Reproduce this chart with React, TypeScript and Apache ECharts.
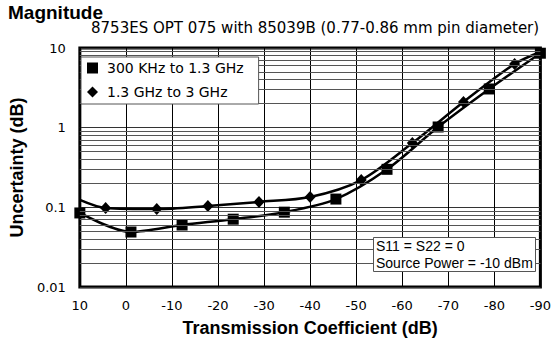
import React, { useEffect, useRef } from "react";
import * as echarts from "echarts";

const titleText = "Magnitude";
const subtitleText = "8753ES OPT 075 with 85039B (0.77-0.86 mm pin diameter)";
const xAxisTitle = "Transmission Coefficient (dB)";
const yAxisTitle = "Uncertainty (dB)";
const seriesNames = ["300 KHz to 1.3 GHz", "1.3 GHz to 3 GHz"];
const noteLines = ["S11 = S22 = 0", "Source Power = -10 dBm"];

const yTickLabels = ["0.01", "0.1", "1", "10"];
const minorGridValues = [
  0.02, 0.03, 0.04, 0.05, 0.06, 0.07, 0.08, 0.09,
  0.2, 0.3, 0.4, 0.5, 0.6, 0.7, 0.8, 0.9,
  2, 3, 4, 5, 6, 7, 8, 9,
];

const lowBandX = [10, -1.1, -12.2, -23.3, -34.4, -45.6, -56.7, -67.8, -78.9, -90];
const lowBandY = [0.085, 0.049, 0.06, 0.071, 0.087, 0.127, 0.3, 1.02, 3.06, 8.6];

const highBandX = [10, 4.4, -6.7, -17.8, -28.9, -40, -51.1, -62.2, -73.3, -84.4, -90];
const highBandY = [0.124, 0.098, 0.095, 0.104, 0.117, 0.135, 0.22, 0.64, 2.1, 6.3, 8.9];

const SANS = "'Liberation Sans', Arial, sans-serif";
const WIDE = "'DejaVu Sans', sans-serif";

export default function App() {
  const ref = useRef<HTMLDivElement>(null);

  useEffect(() => {
    document.body.style.margin = "0";
    if (!ref.current) return;
    const chart = echarts.init(ref.current, null, { renderer: "svg" });

    const lowData = lowBandX.map((x, i) => [x, lowBandY[i]]);
    const highData = highBandX.map((x, i) =>
      i === 0 || i === highBandX.length - 1
        ? { value: [x, highBandY[i]], symbol: "none" }
        : { value: [x, highBandY[i]] }
    );

    chart.setOption({
      animation: false,
      backgroundColor: "#fff",
      title: [
        {
          text: titleText,
          left: 8,
          top: 3,
          padding: 0,
          textStyle: { fontFamily: SANS, fontSize: 19, fontWeight: "bold", color: "#000" },
        },
        {
          text: subtitleText,
          left: 91,
          top: 20,
          padding: 0,
          textStyle: { fontFamily: WIDE, fontSize: 15, fontWeight: "normal", color: "#000" },
        },
      ],
      grid: {
        left: 70,
        right: 12,
        top: 48,
        bottom: 60,
        show: true,
        borderColor: "#000",
        borderWidth: 3,
        backgroundColor: "transparent",
      },
      legend: {
        orient: "vertical",
        left: 81,
        top: 57,
        padding: [4, 15, 5, 6],
        itemGap: 10,
        itemWidth: 11,
        itemHeight: 11,
        backgroundColor: "#fff",
        borderColor: "#555",
        borderWidth: 1,
        borderRadius: 0,
        z: 6,
        textStyle: { fontFamily: WIDE, fontSize: 14, color: "#000", padding: [0, 0, 0, 4] },
        data: [
          { name: seriesNames[0], icon: "rect" },
          { name: seriesNames[1], icon: "diamond" },
        ],
      },
      xAxis: {
        type: "value",
        inverse: true,
        min: -90,
        max: 10,
        interval: 10,
        axisLine: { show: false },
        axisTick: { show: false },
        splitLine: { show: true, lineStyle: { color: "#000", width: 1 } },
        axisLabel: {
          margin: 12,
          fontFamily: WIDE,
          fontSize: 13,
          color: "#000",
          formatter: (v: number) => String(v),
        },
        name: xAxisTitle,
        nameLocation: "middle",
        nameGap: 32,
        nameTextStyle: { fontFamily: SANS, fontSize: 18, fontWeight: "bold", color: "#000" },
      },
      yAxis: {
        type: "log",
        logBase: 10,
        min: 0.01,
        max: 10,
        axisLine: { show: false },
        axisTick: { show: false },
        splitLine: { show: true, lineStyle: { color: "#333", width: 1 } },
        axisLabel: {
          margin: 14,
          fontFamily: WIDE,
          fontSize: 13,
          color: "#000",
          formatter: (v: number) => yTickLabels[Math.round(Math.log10(v)) + 2] ?? String(v),
        },
        name: yAxisTitle,
        nameLocation: "middle",
        nameGap: 41,
        nameTextStyle: { fontFamily: SANS, fontSize: 18, fontWeight: "bold", color: "#000" },
      },
      graphic: [
        {
          type: "rect",
          left: 373,
          top: 237,
          z: 100,
          shape: { x: 0, y: 0, width: 162, height: 34 },
          style: { fill: "#fff", stroke: "#555", lineWidth: 1 },
        },
        {
          type: "text",
          left: 376,
          top: 239,
          z: 101,
          style: { text: noteLines[0], fontFamily: SANS, fontSize: 14, fill: "#000" },
        },
        {
          type: "text",
          left: 376,
          top: 256,
          z: 101,
          style: { text: noteLines[1], fontFamily: SANS, fontSize: 14, fill: "#000" },
        },
      ],
      series: [
        {
          type: "line",
          data: [],
          z: 1,
          silent: true,
          markLine: {
            silent: true,
            symbol: "none",
            label: { show: false },
            lineStyle: { color: "#555", width: 1, type: "solid" },
            emphasis: { disabled: true },
            data: minorGridValues.map((v) => ({ yAxis: v })),
          },
        },
        {
          name: seriesNames[1],
          type: "line",
          data: highData,
          symbol: "diamond",
          symbolSize: [11, 12],
          showAllSymbol: true,
          smooth: 0.3,
          lineStyle: { color: "#000", width: 2.5 },
          itemStyle: { color: "#000" },
          z: 3,
        },
        {
          name: seriesNames[0],
          type: "line",
          data: lowData,
          symbol: "rect",
          symbolSize: 11,
          showAllSymbol: true,
          smooth: 0.3,
          lineStyle: { color: "#000", width: 2.5 },
          itemStyle: { color: "#000" },
          z: 4,
        },
      ],
    });

    return () => chart.dispose();
  }, []);

  return (
    <div
      ref={ref}
      style={{ position: "absolute", left: 0, top: 0, width: 554, height: 347 }}
    />
  );
}
